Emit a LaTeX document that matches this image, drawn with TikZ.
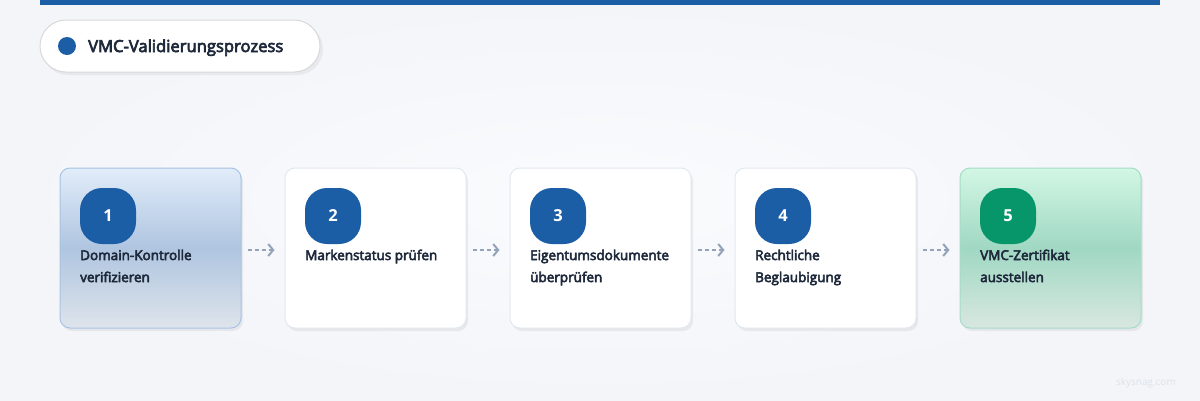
\documentclass[tikz,border=0pt]{standalone}
\usepackage{fontspec}
\setmainfont{Open Sans}
\newfontfamily\semib[UprightFeatures={FakeBold=4}]{Open Sans}
\usetikzlibrary{arrows.meta,shadows}
\definecolor{bgc}{HTML}{F3F5F9}
\definecolor{bgin}{HTML}{FAFBFD}
\definecolor{blueb}{HTML}{1B5EA5}
\definecolor{greenb}{HTML}{07966A}
\definecolor{txt}{HTML}{1E293B}
\definecolor{bordc}{HTML}{E2E8F0}
\definecolor{arrc}{HTML}{94A3B8}
\definecolor{b1top}{HTML}{E1ECF9}
\definecolor{b1mid}{HTML}{AFC5E0}
\definecolor{b1bot}{HTML}{DEE4EB}
\definecolor{b1bord}{HTML}{A8C3E3}
\definecolor{g5top}{HTML}{D2F7E4}
\definecolor{g5mid}{HTML}{A0D8C3}
\definecolor{g5bot}{HTML}{D8E7E1}
\definecolor{g5bord}{HTML}{A6DBC7}
\definecolor{wmark}{HTML}{DDE2E9}
\tikzset{
  card/.style={rounded corners=10pt, minimum width=181pt, minimum height=160pt, inner sep=0pt, line width=1pt},
  whitecard/.style={card, draw=bordc, fill=white},
  bluecard/.style={card, draw=b1bord, top color=b1top, bottom color=b1bot, middle color=b1mid},
  greencard/.style={card, draw=g5bord, top color=g5top, bottom color=g5bot, middle color=g5mid},
  shad/.style={card, draw=none, fill=black, fill opacity=0.06},
  badge/.style={rounded corners=22pt, minimum width=56pt, minimum height=56pt, inner sep=0pt, text=white, font=\bfseries\fontsize{16.5}{16}\selectfont},
  lbl/.style={anchor=base west, inner sep=0pt, text=txt, font=\semib\fontsize{13.5}{16}\selectfont},
  conn/.style={draw=arrc, line width=1.5pt, dash pattern=on 4pt off 3pt, -{Straight Barb[length=5pt,width=12pt,line width=2pt]}}
}
\begin{document}
\begin{tikzpicture}[x=1pt,y=-1pt]
\useasboundingbox (0,0) rectangle (1200,400);
\shade[inner color=bgin, outer color=bgc] (0,0) rectangle (1200,400);
\fill[blueb] (40,0) rectangle (1160,5);
% title pill
\fill[black, opacity=0.05, rounded corners=26pt] (42,23) rectangle (323,75);
\node[draw=black!15, fill=white, rounded corners=26pt, minimum width=280pt, minimum height=52pt, line width=1pt] (title) at (180,46) {};
\fill[blueb] (67,46) circle (9pt);
\node[anchor=base west, inner sep=0pt, text=txt, font=\semib\fontsize{16.6}{18}\selectfont] (ttext) at (88,52) {VMC-Validierungsprozess};
% shadows
\foreach \cx in {150.5,375.5,600.5,825.5,1050.5}{
  \node[shad] at (\cx+2,251) {};
}
% cards
\node[bluecard] (c1) at (150.5,248) {};
\node[whitecard] (c2) at (375.5,248) {};
\node[whitecard] (c3) at (600.5,248) {};
\node[whitecard] (c4) at (825.5,248) {};
\node[greencard] (c5) at (1050.5,248) {};
% badges
\node[badge, fill=blueb] (b1) at (108,216) {1};
\node[badge, fill=blueb] (b2) at (333,216) {2};
\node[badge, fill=blueb] (b3) at (558,216) {3};
\node[badge, fill=blueb] (b4) at (783,216) {4};
\node[badge, fill=greenb] (b5) at (1008,216) {5};
% labels
\node[lbl] (t1a) at (80,260) {Domain-Kontrolle};
\node[lbl] (t1b) at (80,282) {verifizieren};
\node[lbl] (t2a) at (305,260) {Markenstatus prüfen};
\node[lbl] (t3a) at (530,260) {Eigentumsdokumente};
\node[lbl] (t3b) at (530,282) {überprüfen};
\node[lbl] (t4a) at (755,260) {Rechtliche};
\node[lbl] (t4b) at (755,282) {Beglaubigung};
\node[lbl] (t5a) at (980,260) {VMC-Zertifikat};
\node[lbl] (t5b) at (980,282) {ausstellen};
% connectors
\draw[conn] ([xshift=6pt,yshift=-2pt]c1.east) -- ([xshift=-10pt,yshift=-2pt]c2.west);
\draw[conn] ([xshift=6pt,yshift=-2pt]c2.east) -- ([xshift=-10pt,yshift=-2pt]c3.west);
\draw[conn] ([xshift=6pt,yshift=-2pt]c3.east) -- ([xshift=-10pt,yshift=-2pt]c4.west);
\draw[conn] ([xshift=6pt,yshift=-2pt]c4.east) -- ([xshift=-10pt,yshift=-2pt]c5.west);
% watermark
\node[anchor=base east, inner sep=0pt, text=wmark, font=\fontsize{10}{12}\selectfont] (wm) at (1176,385) {skysnag.com};
\end{tikzpicture}
\end{document}
